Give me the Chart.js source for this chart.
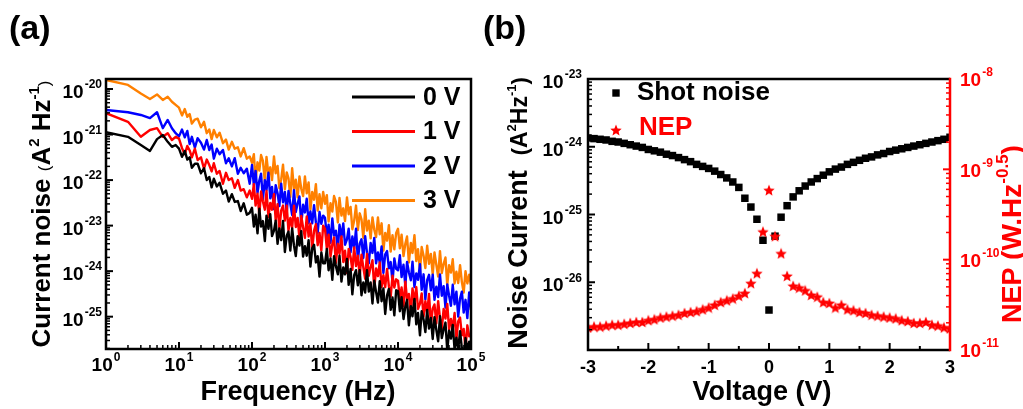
<!DOCTYPE html>
<html>
<head>
<meta charset="utf-8">
<script src="https://cdn.jsdelivr.net/npm/chart.js@4.4.0/dist/chart.umd.min.js"></script>
<style>
  html, body { margin: 0; padding: 0; background: #fff; }
  body { width: 1023px; height: 409px; position: relative; overflow: hidden; }
  canvas { position: absolute; top: 0; }
  #noiseChart { left: 0; }
  #nepChart { left: 470px; }
</style>
</head>
<body>
<canvas id="noiseChart" width="500" height="409"></canvas>
<canvas id="nepChart" width="553" height="409"></canvas>
<script>
// ---- (a) current noise spectra, values stored as log10(A^2/Hz) ----
const freqHz = [1, 2, 3, 4, 5, 6, 7, 8, 9,
  10, 11, 12, 13, 14, 15, 16.5, 18, 20, 22, 24, 26, 28, 30, 33, 36, 40, 44, 48, 53, 58, 64, 70, 77, 85, 93,
  100, 106, 112, 119, 126, 133, 141, 150, 158, 168, 178, 188, 200, 211, 224, 237, 251, 266, 282, 299,
  316, 335, 355, 376, 398, 422, 447, 473, 501, 531, 562, 596, 631, 668, 708, 750, 794, 841, 891, 944,
  1000, 1060, 1120, 1190, 1260, 1330, 1410, 1500, 1580, 1680, 1780, 1880, 2000, 2110, 2240, 2370, 2510, 2660, 2820, 2990,
  3160, 3350, 3550, 3760, 3980, 4220, 4470, 4730, 5010, 5310, 5620, 5960, 6310, 6680, 7080, 7500, 7940, 8410, 8910, 9440,
  10000, 10600, 11200, 11900, 12600, 13300, 14100, 15000, 15800, 16800, 17800, 18800, 20000, 21100, 22400, 23700, 25100, 26600, 28200, 29900,
  31600, 33500, 35500, 37600, 39800, 42200, 44700, 47300, 50100, 53100, 56200, 59600, 63100, 66800, 70800, 75000, 79400, 84100, 89100, 94400,
  100000];

const noise0V = [-20.95, -21.05, -21.23, -21.36, -21.10, -21.01, -21.16, -21.27, -21.23,
  -21.31, -21.49, -21.36, -21.55, -21.50, -21.73, -21.64, -21.64, -21.85, -21.74, -22.00, -21.93, -22.16, -21.97, -22.14, -22.06, -22.30, -22.23, -22.47, -22.31, -22.48, -22.46, -22.68, -22.51, -22.76, -22.72,
  -22.61, -23.02, -22.76, -23.17, -22.63, -23.02, -22.90, -23.34, -22.78, -23.07, -22.75, -23.23, -23.11, -22.89, -23.40, -23.06, -23.32, -22.90, -23.58, -23.22,
  -23.13, -23.55, -23.06, -23.44, -23.67, -23.23, -23.44, -23.12, -23.68, -23.45, -23.66, -23.32, -23.90, -23.50, -23.42, -23.81, -23.67, -24.12, -23.59, -23.83,
  -23.83, -23.51, -23.98, -23.72, -24.19, -23.67, -23.89, -24.07, -23.66, -24.23, -23.92, -24.07, -23.73, -24.30, -23.95, -24.51, -24.09, -23.98, -24.31, -23.98,
  -24.53, -24.25, -24.47, -23.98, -24.45, -24.25, -24.71, -24.21, -24.46, -24.69, -24.22, -24.66, -24.38, -24.94, -24.53, -24.39, -24.85, -24.58, -24.97, -24.42,
  -24.44, -24.88, -24.57, -25.05, -24.78, -24.63, -25.19, -24.77, -24.99, -24.61, -25.17, -24.92, -25.41, -24.88, -25.06, -25.34, -24.85, -25.26, -25.03, -25.49,
  -25.01, -25.29, -25.54, -24.99, -25.47, -25.28, -25.13, -25.75, -25.31, -25.48, -25.18, -25.72, -25.46, -25.72, -25.32, -25.70, -25.93, -25.47, -25.73, -25.55,
  -25.75];

const noise1V = [-20.53, -20.72, -21.05, -20.90, -20.86, -21.05, -20.97, -21.12, -21.05,
  -21.09, -21.30, -21.43, -21.25, -21.35, -21.50, -21.31, -21.56, -21.50, -21.75, -21.55, -21.67, -21.81, -21.63, -21.86, -21.80, -22.08, -21.84, -22.00, -21.96, -22.17, -22.00, -22.23, -22.20, -22.38, -22.23,
  -22.41, -22.09, -22.56, -22.30, -22.77, -22.25, -22.47, -22.65, -22.24, -22.81, -22.50, -22.65, -22.31, -22.88, -22.53, -23.09, -22.67, -22.56, -22.89, -22.56,
  -23.11, -22.83, -23.05, -22.56, -23.03, -22.83, -23.29, -22.79, -23.04, -23.27, -22.80, -23.24, -22.96, -23.52, -23.11, -22.97, -23.43, -23.16, -23.55, -23.00,
  -23.07, -23.51, -23.20, -23.68, -23.41, -23.26, -23.82, -23.40, -23.62, -23.24, -23.80, -23.55, -24.04, -23.51, -23.69, -23.97, -23.48, -23.89, -23.66, -24.12,
  -23.64, -23.92, -24.17, -23.62, -24.10, -23.91, -23.76, -24.38, -23.94, -24.11, -23.81, -24.35, -24.09, -24.35, -23.95, -24.33, -24.56, -24.10, -24.36, -24.18,
  -24.21, -24.62, -24.36, -24.77, -24.23, -24.62, -24.50, -24.94, -24.38, -24.67, -24.35, -24.83, -24.71, -24.49, -25.00, -24.66, -24.92, -24.50, -25.18, -24.82,
  -24.73, -25.15, -24.66, -25.04, -25.27, -24.83, -25.04, -24.72, -25.28, -25.05, -25.26, -24.92, -25.50, -25.10, -25.02, -25.41, -25.27, -25.72, -25.19, -25.43,
  -25.40];

const noise2V = [-20.46, -20.51, -20.57, -20.64, -20.51, -20.86, -20.68, -20.86, -20.97,
  -21.04, -20.89, -21.06, -20.92, -21.21, -21.05, -21.29, -21.08, -21.18, -21.33, -21.12, -21.34, -21.22, -21.53, -21.31, -21.43, -21.34, -21.63, -21.52, -21.70, -21.52, -21.86, -21.73, -21.85, -21.75, -22.08,
  -21.67, -22.11, -21.80, -22.28, -22.01, -21.86, -22.42, -22.00, -22.22, -21.84, -22.40, -22.15, -22.64, -22.11, -22.29, -22.57, -22.08, -22.49, -22.26, -22.72,
  -22.24, -22.52, -22.77, -22.22, -22.70, -22.51, -22.36, -22.98, -22.54, -22.71, -22.41, -22.95, -22.69, -22.95, -22.55, -22.93, -23.16, -22.70, -22.96, -22.78,
  -22.83, -23.23, -22.98, -23.38, -22.84, -23.22, -23.11, -23.54, -22.98, -23.26, -22.95, -23.42, -23.30, -23.07, -23.59, -23.24, -23.50, -23.07, -23.76, -23.39,
  -23.30, -23.71, -23.23, -23.60, -23.83, -23.38, -23.60, -23.27, -23.83, -23.59, -23.81, -23.46, -24.04, -23.63, -23.56, -23.94, -23.80, -24.24, -23.72, -23.95,
  -23.98, -23.65, -24.13, -23.86, -24.33, -23.80, -24.03, -24.20, -23.79, -24.35, -24.05, -24.19, -23.85, -24.41, -24.07, -24.62, -24.20, -24.08, -24.42, -24.08,
  -24.63, -24.34, -24.57, -24.07, -24.54, -24.33, -24.80, -24.29, -24.54, -24.76, -24.30, -24.73, -24.45, -25.00, -24.60, -24.45, -24.91, -24.63, -25.03, -24.47,
  -24.85];

const noise3V = [-19.80, -19.91, -20.10, -20.22, -20.12, -20.24, -20.17, -20.28, -20.35,
  -20.41, -20.58, -20.44, -20.61, -20.55, -20.76, -20.67, -20.65, -20.84, -20.72, -20.97, -20.89, -21.10, -20.90, -21.06, -20.96, -21.19, -21.11, -21.33, -21.16, -21.31, -21.28, -21.48, -21.30, -21.53, -21.48,
  -21.62, -21.43, -22.01, -21.61, -21.79, -21.45, -21.58, -22.03, -21.49, -21.88, -21.72, -22.00, -21.48, -21.85, -21.69, -22.18, -21.99, -21.66, -22.20, -21.83,
  -21.96, -22.37, -21.74, -22.21, -21.99, -22.38, -21.92, -22.19, -22.35, -21.92, -22.29, -22.05, -22.65, -22.26, -22.43, -22.09, -22.67, -22.31, -22.62, -22.26,
  -22.52, -22.33, -22.91, -22.51, -22.69, -22.35, -22.48, -22.93, -22.39, -22.78, -22.62, -22.90, -22.38, -22.75, -22.59, -23.08, -22.89, -22.56, -23.10, -22.73,
  -22.86, -23.27, -22.64, -23.11, -22.89, -23.28, -22.82, -23.09, -23.25, -22.82, -23.19, -22.95, -23.55, -23.16, -23.33, -22.99, -23.57, -23.21, -23.52, -23.16,
  -23.07, -23.50, -23.20, -23.67, -23.40, -23.24, -23.81, -23.38, -23.60, -23.21, -23.78, -23.52, -24.01, -23.47, -23.66, -23.93, -23.44, -23.84, -23.62, -24.07,
  -23.59, -23.86, -24.12, -23.56, -24.04, -23.84, -23.70, -24.31, -23.87, -24.03, -23.74, -24.27, -24.01, -24.26, -23.87, -24.24, -24.47, -24.00, -24.27, -24.08,
  -24.30];

const biasLabels = ['0 V', '1 V', '2 V', '3 V'];
const biasColors = ['#000000', '#ff0000', '#0000ff', '#ff8000'];

// ---- (b) shot noise (log10 A^2/Hz) and NEP (log10 W/Hz^0.5) vs bias ----
const voltage = [-3.0, -2.9, -2.8, -2.7, -2.6, -2.5, -2.4, -2.3, -2.2, -2.1, -2.0, -1.9, -1.8, -1.7, -1.6, -1.5, -1.4, -1.3, -1.2, -1.1,
  -1.0, -0.9, -0.8, -0.7, -0.6, -0.5, -0.4, -0.3, -0.2, -0.1, 0.0, 0.1, 0.2, 0.3, 0.4, 0.5, 0.6, 0.7, 0.8, 0.9,
  1.0, 1.1, 1.2, 1.3, 1.4, 1.5, 1.6, 1.7, 1.8, 1.9, 2.0, 2.1, 2.2, 2.3, 2.4, 2.5, 2.6, 2.7, 2.8, 2.9, 3.0];

const shotNoiseLog = [-23.87, -23.88, -23.89, -23.90, -23.92, -23.93, -23.95, -23.97, -23.99, -24.01, -24.04, -24.06, -24.08, -24.11, -24.13, -24.16, -24.19, -24.22, -24.26, -24.29,
  -24.32, -24.36, -24.41, -24.46, -24.52, -24.60, -24.76, -24.89, -25.07, -25.38, -26.41, -25.32, -25.04, -24.87, -24.74, -24.65, -24.58, -24.52, -24.47, -24.42,
  -24.37, -24.33, -24.30, -24.26, -24.23, -24.20, -24.17, -24.15, -24.12, -24.10, -24.07, -24.05, -24.03, -24.01, -23.99, -23.97, -23.95, -23.93, -23.91, -23.89, -23.86];

const nepLog = [-10.75, -10.74, -10.74, -10.73, -10.72, -10.72, -10.71, -10.70, -10.69, -10.69, -10.67, -10.66, -10.64, -10.63, -10.62, -10.61, -10.59, -10.58, -10.57, -10.55,
  -10.53, -10.50, -10.47, -10.45, -10.43, -10.40, -10.37, -10.26, -10.15, -9.69, -9.23, -9.74, -9.93, -10.18, -10.29, -10.31, -10.34, -10.39, -10.41, -10.47,
  -10.48, -10.53, -10.50, -10.55, -10.56, -10.58, -10.59, -10.61, -10.62, -10.63, -10.64, -10.65, -10.67, -10.68, -10.70, -10.70, -10.69, -10.72, -10.73, -10.75, -10.76];

// tick labels (decade exponents / linear values)
const freqTickExp = [0, 1, 2, 3, 4, 5];
const noiseTickExp = [-25, -24, -23, -22, -21, -20];
const shotTickExp = [-26, -25, -24, -23];
const nepTickExp = [-11, -10, -9, -8];
const voltTicks = [-3, -2, -1, 0, 1, 2, 3];

const FAMILY = '"Liberation Sans", Arial, Helvetica, sans-serif';
const font = (size, bold) => (bold ? 'bold ' : '') + size + 'px ' + FAMILY;
const RED = '#ff0000';

// helpers -----------------------------------------------------------
function logTickValues(scale) {
  const out = [];
  const lo = Math.floor(Math.log10(scale.min));
  const hi = Math.ceil(Math.log10(scale.max));
  for (let e = lo; e <= hi; e++) {
    for (let m = 1; m <= 9; m++) {
      const v = m * Math.pow(10, e);
      if (v >= scale.min * 0.999 && v <= scale.max * 1.001) out.push({ v, major: m === 1 });
    }
  }
  return out;
}

function tickLine(ctx, x1, y1, x2, y2, w) {
  ctx.lineWidth = w;
  ctx.beginPath();
  ctx.moveTo(x1, y1);
  ctx.lineTo(x2, y2);
  ctx.stroke();
}

// "10" with a raised exponent
function drawPow(ctx, exp, x, y, align, color) {
  ctx.save();
  ctx.fillStyle = color;
  ctx.textBaseline = 'middle';
  ctx.textAlign = 'left';
  ctx.font = font(19, true);
  const bw = ctx.measureText('10').width;
  ctx.font = font(12, true);
  const sup = String(exp);
  const sw = ctx.measureText(sup).width;
  const total = bw + 1 + sw;
  const x0 = align === 'right' ? x - total : align === 'center' ? x - total / 2 : x;
  ctx.font = font(19, true);
  ctx.fillText('10', x0, y);
  ctx.font = font(12, true);
  ctx.fillText(sup, x0 + bw + 1, y - 8);
  ctx.restore();
}

// mixed-size text runs, optionally rotated to read bottom-to-top
function drawRuns(ctx, runs, x, y, rotated, color) {
  ctx.save();
  ctx.translate(x, y);
  if (rotated) ctx.rotate(-Math.PI / 2);
  ctx.textBaseline = 'alphabetic';
  ctx.textAlign = 'left';
  let total = 0;
  runs.forEach(r => {
    ctx.font = font(r.size, r.bold !== false);
    r.w = ctx.measureText(r.t).width;
    total += r.w;
  });
  let cx = -total / 2;
  runs.forEach(r => {
    ctx.font = font(r.size, r.bold !== false);
    ctx.fillStyle = r.color || color;
    ctx.fillText(r.t, cx, r.dy || 0);
    cx += r.w;
  });
  ctx.restore();
}

function makeStar(size, color) {
  const c = document.createElement('canvas');
  c.width = size;
  c.height = size;
  const g = c.getContext('2d');
  const cx = size / 2, cy = size / 2 + 0.6, R = size / 2, r = R * 0.45;
  g.beginPath();
  for (let i = 0; i < 10; i++) {
    const ang = -Math.PI / 2 + i * Math.PI / 5;
    const rad = i % 2 ? r : R;
    g.lineTo(cx + rad * Math.cos(ang), cy + rad * Math.sin(ang));
  }
  g.closePath();
  g.fillStyle = color;
  g.fill();
  return c;
}
const starMark = makeStar(12, RED);

const bareAxis = {
  grid: { display: false },
  border: { display: false },
  ticks: { display: false },
  title: { display: false }
};

// ---- panel (a) ----------------------------------------------------
const noiseDecor = {
  id: 'noiseDecor',
  afterDraw(chart) {
    const { ctx, chartArea: a, scales: { x, y } } = chart;
    ctx.save();
    ctx.strokeStyle = '#000';
    logTickValues(y).forEach(t => {
      const p = y.getPixelForValue(t.v);
      tickLine(ctx, a.left, p, a.left + (t.major ? 7 : 4), p, t.major ? 2 : 1.5);
    });
    logTickValues(x).forEach(t => {
      const p = x.getPixelForValue(t.v);
      tickLine(ctx, p, a.bottom, p, a.bottom - (t.major ? 7 : 4), t.major ? 2 : 1.5);
    });
    ctx.lineWidth = 2.5;
    ctx.strokeRect(a.left, a.top, a.right - a.left, a.bottom - a.top);

    noiseTickExp.forEach(e => drawPow(ctx, e, a.left - 4, y.getPixelForValue(Math.pow(10, e)) + 4, 'right', '#000'));
    freqTickExp.forEach(e => drawPow(ctx, e, x.getPixelForValue(Math.pow(10, e)), a.bottom + 17, 'center', '#000'));

    // legend
    chart.data.datasets.forEach((ds, i) => {
      const ly = 97 + i * 34.5;
      ctx.strokeStyle = ds.borderColor;
      tickLine(ctx, 352, ly, 415, ly, 3);
      ctx.fillStyle = '#000';
      ctx.font = font(25, true);
      ctx.textBaseline = 'middle';
      ctx.textAlign = 'left';
      ctx.fillText(ds.label, 423, ly + 1);
    });

    // axis titles and panel tag
    ctx.fillStyle = '#000';
    ctx.font = font(27, true);
    ctx.textAlign = 'center';
    ctx.textBaseline = 'alphabetic';
    ctx.fillText('Frequency (Hz)', 298, 400);
    drawRuns(ctx, [
      { t: 'Current noise ', size: 26 },
      { t: '(', size: 17, bold: false },
      { t: 'A', size: 26 },
      { t: '2', size: 15, dy: -11 },
      { t: ' Hz', size: 26 },
      { t: '-1', size: 15, dy: -11 },
      { t: ')', size: 17, bold: false }
    ], 50, 214, true, '#000');
    ctx.font = font(34, true);
    ctx.textAlign = 'left';
    ctx.fillText('(a)', 9, 39);
    ctx.restore();
  }
};

new Chart(document.getElementById('noiseChart'), {
  type: 'line',
  data: {
    datasets: [noise0V, noise1V, noise2V, noise3V].map((series, i) => ({
      label: biasLabels[i],
      data: freqHz.map((f, k) => ({ x: f, y: Math.pow(10, series[k]) })),
      borderColor: biasColors[i],
      borderWidth: 2.4,
      borderJoinStyle: 'round',
      pointRadius: 0,
      tension: 0,
      fill: false
    }))
  },
  options: {
    responsive: false,
    animation: false,
    layout: { padding: { left: 0, right: 29, top: 79, bottom: 0 } },
    plugins: { legend: { display: false }, tooltip: { enabled: false } },
    scales: {
      x: Object.assign({}, bareAxis, {
        type: 'logarithmic', min: 1, max: 1e5,
        afterFit: s => { s.height = 60; }
      }),
      y: Object.assign({}, bareAxis, {
        type: 'logarithmic', min: 1.95e-26, max: 1.66e-20,
        afterFit: s => { s.width = 106; }
      })
    }
  },
  plugins: [noiseDecor]
});

// ---- panel (b) ----------------------------------------------------
const nepDecor = {
  id: 'nepDecor',
  afterDraw(chart) {
    const { ctx, chartArea: a, scales: { x, y, y2 } } = chart;
    ctx.save();
    ctx.strokeStyle = '#000';
    logTickValues(y).forEach(t => {
      const p = y.getPixelForValue(t.v);
      tickLine(ctx, a.left, p, a.left + (t.major ? 7 : 4), p, t.major ? 2 : 1.5);
    });
    for (let v = -3; v <= 3.001; v += 0.5) {
      const p = x.getPixelForValue(v);
      const major = Math.abs(v - Math.round(v)) < 0.01;
      tickLine(ctx, p, a.bottom, p, a.bottom - (major ? 7 : 4), 2);
    }
    ctx.strokeStyle = RED;
    logTickValues(y2).forEach(t => {
      const p = y2.getPixelForValue(t.v);
      tickLine(ctx, a.right, p, a.right - (t.major ? 7 : 4), p, t.major ? 2 : 1.5);
    });

    // frame: black on three sides, red on the NEP side
    ctx.strokeStyle = '#000';
    ctx.lineWidth = 2.5;
    ctx.beginPath();
    ctx.moveTo(a.right, a.top);
    ctx.lineTo(a.left, a.top);
    ctx.lineTo(a.left, a.bottom);
    ctx.lineTo(a.right, a.bottom);
    ctx.stroke();
    ctx.strokeStyle = RED;
    tickLine(ctx, a.right, a.top - 1.2, a.right, a.bottom + 1.2, 2.5);

    shotTickExp.forEach(e => drawPow(ctx, e, a.left - 6, y.getPixelForValue(Math.pow(10, e)) + 4, 'right', '#000'));
    nepTickExp.forEach(e => drawPow(ctx, e, a.right + 10, y2.getPixelForValue(Math.pow(10, e)) + 2, 'left', RED));
    ctx.fillStyle = '#000';
    ctx.font = font(18, true);
    ctx.textAlign = 'center';
    ctx.textBaseline = 'middle';
    voltTicks.forEach(v => ctx.fillText(String(v), x.getPixelForValue(v), a.bottom + 18));

    // legend
    ctx.fillStyle = '#000';
    ctx.fillRect(146 - 3.7, 93 - 3.7, 7.4, 7.4);
    ctx.drawImage(starMark, 146 - 6, 130 - 6);
    ctx.font = font(26, true);
    ctx.textAlign = 'left';
    ctx.textBaseline = 'middle';
    ctx.fillText(chart.data.datasets[0].label, 167, 93);
    ctx.fillStyle = RED;
    ctx.fillText(chart.data.datasets[1].label, 169, 128);

    // axis titles and panel tag
    ctx.fillStyle = '#000';
    ctx.font = font(27, true);
    ctx.textAlign = 'center';
    ctx.textBaseline = 'alphabetic';
    ctx.fillText('Voltage (V)', 292, 400);
    drawRuns(ctx, [
      { t: 'Noise Current  ', size: 27 },
      { t: '(', size: 22 },
      { t: 'A', size: 23 },
      { t: '2', size: 13, dy: -11 },
      { t: 'Hz', size: 23 },
      { t: '-1', size: 13, dy: -11 },
      { t: ')', size: 22 }
    ], 57, 213, true, '#000');
    drawRuns(ctx, [
      { t: 'NEP ', size: 27 },
      { t: '(W.Hz', size: 28 },
      { t: '-0.5', size: 17, dy: -13 },
      { t: ')', size: 28 }
    ], 551, 234, true, RED);
    ctx.font = font(34, true);
    ctx.textAlign = 'left';
    ctx.fillText('(b)', 13, 39);
    ctx.restore();
  }
};

new Chart(document.getElementById('nepChart'), {
  type: 'scatter',
  data: {
    datasets: [
      {
        label: 'Shot noise',
        data: voltage.map((v, k) => ({ x: v, y: Math.pow(10, shotNoiseLog[k]) })),
        yAxisID: 'y',
        pointStyle: 'rect',
        pointRadius: 5.3,
        borderWidth: 0,
        backgroundColor: '#000',
        order: 2
      },
      {
        label: 'NEP',
        data: voltage.map((v, k) => ({ x: v, y: Math.pow(10, nepLog[k]) })),
        yAxisID: 'y2',
        pointStyle: starMark,
        pointRadius: 5,
        borderWidth: 0,
        backgroundColor: RED,
        order: 1
      }
    ]
  },
  options: {
    responsive: false,
    animation: false,
    layout: { padding: { left: 0, right: 0, top: 79, bottom: 0 } },
    plugins: { legend: { display: false }, tooltip: { enabled: false } },
    scales: {
      x: Object.assign({}, bareAxis, {
        type: 'linear', min: -3, max: 3,
        afterFit: s => { s.height = 59; }
      }),
      y: Object.assign({}, bareAxis, {
        type: 'logarithmic', position: 'left', min: 1e-27, max: 1e-23,
        afterFit: s => { s.width = 118; }
      }),
      y2: Object.assign({}, bareAxis, {
        type: 'logarithmic', position: 'right', min: 1e-11, max: 1e-8,
        afterFit: s => { s.width = 73; }
      })
    }
  },
  plugins: [nepDecor]
});
</script>
</body>
</html>
